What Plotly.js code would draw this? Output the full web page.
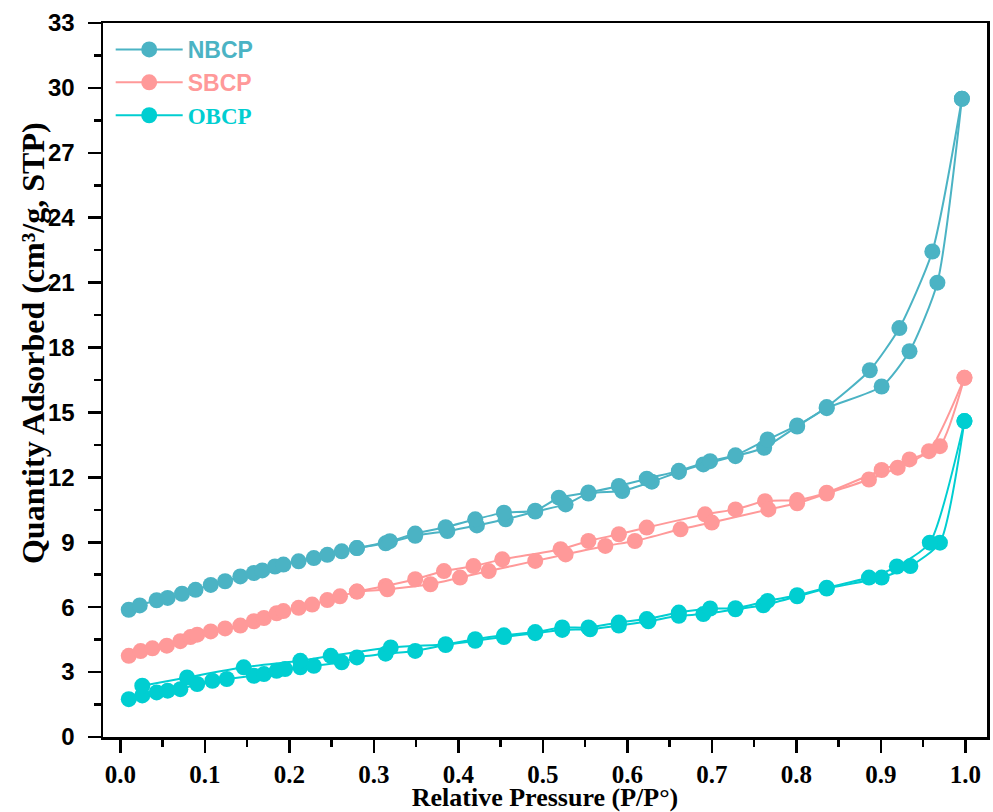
<!DOCTYPE html>
<html>
<head>
<meta charset="utf-8">
<script src="https://cdn.plot.ly/plotly-3.0.1.min.js"></script>
<style>
  html, body { margin: 0; padding: 0; background: #fff; }
  #chart { width: 993px; height: 812px; }
</style>
</head>
<body>
<div id="chart"></div>
<script>
// N2 isotherms: adsorption (rising P/P0) and desorption (falling P/P0) branches

// NBCP
const nbcpAdsP = [0.010,0.023,0.043,0.056,0.073,0.089,0.107,0.124,0.142,0.158,0.168,0.183,0.193,0.211,0.229,0.245,0.262,0.280,0.314,0.349,0.387,0.422,0.456,0.491,0.527,0.554,0.594,0.629,0.661,0.690,0.728,0.762,0.801,0.836,0.901,0.934,0.967,0.996];
const nbcpAdsQ = [5.88,6.08,6.32,6.43,6.62,6.80,7.03,7.20,7.42,7.58,7.70,7.88,7.97,8.12,8.27,8.42,8.58,8.73,8.95,9.30,9.52,9.78,10.06,10.42,10.75,11.25,11.37,11.80,12.25,12.60,12.98,13.37,14.35,15.20,16.20,17.83,21.00,29.50];
const nbcpDesP = [0.996,0.961,0.922,0.887,0.836,0.801,0.766,0.728,0.698,0.661,0.623,0.590,0.554,0.519,0.491,0.454,0.420,0.385,0.349,0.319,0.280];
const nbcpDesQ = [29.50,22.44,18.90,16.95,15.25,14.40,13.75,13.02,12.75,12.30,11.94,11.60,11.30,11.06,10.46,10.37,10.06,9.70,9.40,9.05,8.73];

// SBCP
const sbcpAdsP = [0.010,0.024,0.038,0.055,0.071,0.083,0.091,0.107,0.124,0.142,0.158,0.170,0.185,0.193,0.211,0.227,0.245,0.260,0.280,0.314,0.349,0.383,0.418,0.452,0.521,0.554,0.590,0.623,0.692,0.728,0.763,0.801,0.836,0.901,0.934,0.970,0.999];
const sbcpAdsQ = [3.75,3.97,4.10,4.22,4.43,4.62,4.73,4.88,5.02,5.15,5.35,5.50,5.72,5.82,5.97,6.12,6.33,6.50,6.72,6.98,7.29,7.67,7.90,8.21,8.68,9.06,9.37,9.68,10.29,10.52,10.90,10.95,11.29,12.34,12.83,13.44,16.60];
const sbcpDesP = [0.999,0.957,0.920,0.886,0.836,0.801,0.767,0.700,0.663,0.609,0.574,0.527,0.491,0.436,0.402,0.367,0.316,0.280];
const sbcpDesQ = [16.60,13.21,12.45,11.90,11.25,10.80,10.52,9.91,9.60,9.06,8.83,8.44,8.14,7.67,7.37,7.06,6.83,6.72];

// OBCP
const obcpAdsP = [0.010,0.026,0.043,0.056,0.071,0.091,0.109,0.126,0.158,0.170,0.185,0.195,0.213,0.229,0.262,0.280,0.314,0.349,0.385,0.420,0.454,0.491,0.523,0.556,0.590,0.625,0.661,0.690,0.728,0.761,0.801,0.836,0.901,0.935,0.970,0.999];
const obcpAdsQ = [1.75,1.92,2.06,2.14,2.21,2.45,2.60,2.68,2.83,2.91,3.06,3.14,3.22,3.29,3.45,3.68,3.85,3.98,4.25,4.45,4.62,4.80,4.95,4.98,5.15,5.35,5.60,5.68,5.90,6.09,6.50,6.86,7.37,7.90,8.98,14.60];
const obcpDesP = [0.999,0.958,0.919,0.886,0.836,0.801,0.766,0.728,0.698,0.661,0.623,0.590,0.554,0.523,0.491,0.454,0.420,0.385,0.320,0.249,0.213,0.146,0.079,0.026];
const obcpDesQ = [14.60,8.98,7.88,7.37,6.90,6.55,6.29,5.95,5.94,5.75,5.45,5.29,5.06,5.06,4.85,4.70,4.52,4.29,4.14,3.75,3.52,3.22,2.75,2.37];

const seriesNames = ['NBCP', 'SBCP', 'OBCP'];
const seriesColors = ['#4BB3C4', '#FF9999', '#00CED1'];
const legendFonts = ['Liberation Sans', 'Liberation Sans', 'Liberation Serif'];

const branches = [
  [nbcpAdsP, nbcpAdsQ, nbcpDesP, nbcpDesQ],
  [sbcpAdsP, sbcpAdsQ, sbcpDesP, sbcpDesQ],
  [obcpAdsP, obcpAdsQ, obcpDesP, obcpDesQ]
];

const traces = [];
branches.forEach(function (b, i) {
  const color = seriesColors[i];
  const common = {
    type: 'scatter',
    mode: 'lines+markers',
    legendgroup: seriesNames[i],
    line: { color: color, width: 2, shape: 'spline', smoothing: 0.6 },
    marker: { color: color, size: 16, symbol: 'circle' },
    hoverinfo: 'x+y+name'
  };
  traces.push(Object.assign({}, common, {
    x: b[0], y: b[1],
    name: '<span style="color:' + color + ';font-family:' + legendFonts[i] + '">' + seriesNames[i] + '</span>',
    showlegend: true
  }));
  traces.push(Object.assign({}, common, {
    x: b[2], y: b[3],
    name: seriesNames[i] + ' desorption',
    showlegend: false
  }));
});

const serif = 'Liberation Serif, Times New Roman, serif';
const sans = 'Liberation Sans, Arial, sans-serif';

const layout = {
  width: 993,
  height: 812,
  margin: { l: 103, r: 6, t: 23, b: 75, pad: 0 },
  paper_bgcolor: '#ffffff',
  plot_bgcolor: '#ffffff',
  showlegend: true,
  legend: {
    x: 0.0087, y: 0.993, xanchor: 'left', yanchor: 'top',
    bgcolor: 'rgba(0,0,0,0)',
    borderwidth: 0,
    font: { family: sans, size: 23, weight: 'bold', color: '#000' },
    itemwidth: 67,
    tracegroupgap: 0,
    traceorder: 'normal'
  },
  xaxis: {
    range: [-0.0205, 1.0257],
    tick0: 0, dtick: 0.1, tickformat: '.1f',
    ticks: 'outside', ticklen: 13, tickwidth: 2.5, tickcolor: '#000',
    minor: { dtick: 0.05, ticks: 'outside', ticklen: 7, tickwidth: 2.5, tickcolor: '#000' },
    showline: true, linewidth: 2.5, linecolor: '#000', mirror: true,
    showgrid: false, zeroline: false,
    ticklabelstandoff: 0,
    tickfont: { family: serif, size: 25, weight: 'bold', color: '#000' },
    title: { text: 'Relative Pressure (P/P°)', standoff: 11,
             font: { family: serif, size: 26, weight: 'bold', color: '#000' } }
  },
  yaxis: {
    range: [0, 33],
    tick0: 0, dtick: 3,
    ticks: 'outside', ticklen: 13, tickwidth: 2.5, tickcolor: '#000',
    minor: { dtick: 1.5, ticks: 'outside', ticklen: 7, tickwidth: 2.5, tickcolor: '#000' },
    showline: true, linewidth: 2.5, linecolor: '#000', mirror: true,
    showgrid: false, zeroline: false,
    ticklabelstandoff: 8,
    tickfont: { family: sans, size: 24, weight: 'bold', color: '#000' }
  },
  // y-axis title placed slightly above the plot's vertical centre
  annotations: [{
    text: 'Quantity Adsorbed (cm³/g, STP)',
    xref: 'paper', yref: 'paper',
    x: -0.079, y: 0.552,
    xanchor: 'center', yanchor: 'middle',
    textangle: -90,
    showarrow: false,
    font: { family: serif, size: 32, weight: 'bold', color: '#000' }
  }]
};

Plotly.newPlot('chart', traces, layout, { displayModeBar: false, staticPlot: true });
</script>
</body>
</html>
